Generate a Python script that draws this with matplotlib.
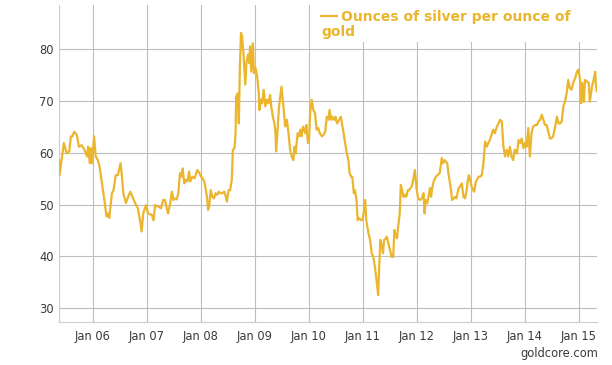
import matplotlib
matplotlib.use("Agg")
import matplotlib.pyplot as plt
from matplotlib.lines import Line2D
from matplotlib.patches import Rectangle

# Decimal-year dates and silver/gold ratio
years = [
    2005.37, 2005.38, 2005.46, 2005.51, 2005.56, 2005.59, 2005.62, 2005.65, 2005.70, 2005.74,
    2005.79, 2005.84, 2005.89, 2005.91, 2005.94, 2005.96, 2005.98, 2006.02, 2006.05, 2006.09,
    2006.12, 2006.16, 2006.21, 2006.25, 2006.28, 2006.30, 2006.35, 2006.38, 2006.42, 2006.46,
    2006.51, 2006.53, 2006.56, 2006.61, 2006.64, 2006.69, 2006.73, 2006.78, 2006.83, 2006.87,
    2006.90, 2006.93, 2006.98, 2007.02, 2007.09, 2007.12, 2007.15, 2007.21, 2007.26, 2007.30,
    2007.33,
    2007.39, 2007.43, 2007.46, 2007.49, 2007.52, 2007.55, 2007.58, 2007.61, 2007.64, 2007.66,
    2007.69, 2007.72, 2007.75, 2007.78, 2007.80, 2007.84, 2007.88, 2007.90, 2007.93, 2007.97,
    2008.00, 2008.03, 2008.06, 2008.09, 2008.11, 2008.13, 2008.15, 2008.18, 2008.21, 2008.24,
    2008.27, 2008.30, 2008.33, 2008.36, 2008.39, 2008.43, 2008.46, 2008.48, 2008.51, 2008.54,
    2008.57, 2008.59, 2008.62, 2008.64, 2008.65, 2008.68, 2008.70, 2008.72, 2008.74, 2008.76,
    2008.79, 2008.82, 2008.84, 2008.87, 2008.89, 2008.91, 2008.93, 2008.96, 2008.98, 2009.01,
    2009.04, 2009.07, 2009.08, 2009.11, 2009.13, 2009.16, 2009.19, 2009.22, 2009.25, 2009.28,
    2009.30, 2009.33, 2009.36, 2009.38, 2009.39, 2009.41, 2009.44, 2009.46,
    2009.49, 2009.52, 2009.56, 2009.59, 2009.62, 2009.65, 2009.68, 2009.71, 2009.73, 2009.75,
    2009.79, 2009.81, 2009.84, 2009.86, 2009.89, 2009.93, 2009.95, 2009.98, 2010.00, 2010.02,
    2010.05, 2010.08, 2010.11, 2010.14, 2010.17, 2010.20, 2010.24, 2010.27, 2010.30, 2010.33,
    2010.36, 2010.38, 2010.41, 2010.43, 2010.47, 2010.49, 2010.52, 2010.56, 2010.59, 2010.62,
    2010.65, 2010.68, 2010.70, 2010.73, 2010.75, 2010.78, 2010.80, 2010.83, 2010.85, 2010.88,
    2010.90, 2010.93, 2010.96, 2010.99, 2011.01, 2011.04, 2011.06, 2011.10, 2011.13, 2011.16,
    2011.19, 2011.22, 2011.25, 2011.28, 2011.30, 2011.32, 2011.35, 2011.37, 2011.39, 2011.43,
    2011.44, 2011.47, 2011.50, 2011.53, 2011.56, 2011.58, 2011.61, 2011.63, 2011.65, 2011.68,
    2011.70, 2011.73, 2011.75, 2011.78, 2011.80, 2011.83, 2011.85, 2011.88, 2011.90, 2011.93,
    2011.96, 2011.99, 2012.02, 2012.06, 2012.09, 2012.12, 2012.14, 2012.16, 2012.19, 2012.21,
    2012.24, 2012.26, 2012.28, 2012.31, 2012.35, 2012.38, 2012.42, 2012.46, 2012.48, 2012.51,
    2012.53, 2012.56, 2012.58, 2012.62, 2012.65, 2012.68, 2012.70, 2012.73, 2012.77, 2012.80,
    2012.83, 2012.86, 2012.89, 2012.91, 2012.94, 2012.96, 2012.99, 2013.01, 2013.04, 2013.06,
    2013.09, 2013.11, 2013.14, 2013.17, 2013.20, 2013.23, 2013.26, 2013.29, 2013.32, 2013.35,
    2013.38, 2013.41, 2013.44, 2013.48, 2013.51, 2013.54,
    2013.57, 2013.60, 2013.63, 2013.66, 2013.69, 2013.72, 2013.75, 2013.78, 2013.81, 2013.85,
    2013.88, 2013.91, 2013.94, 2013.97, 2014.00, 2014.03, 2014.06, 2014.09, 2014.12, 2014.15,
    2014.19, 2014.22, 2014.25, 2014.28, 2014.31, 2014.34, 2014.37, 2014.40, 2014.43, 2014.46,
    2014.49, 2014.52, 2014.56, 2014.59, 2014.62, 2014.65, 2014.68, 2014.71, 2014.74, 2014.77,
    2014.80, 2014.83, 2014.86, 2014.89, 2014.93, 2014.96, 2014.99, 2015.02, 2015.04, 2015.06,
    2015.09, 2015.11, 2015.15, 2015.18, 2015.20, 2015.24, 2015.27, 2015.30, 2015.31, 2015.33,
]
ratio = [
    58.6, 55.7, 61.9, 59.9, 60.3, 63.2, 63.2, 64.1, 63.5, 61.2,
    61.5, 60.6, 59.3, 61.2, 58.0, 60.9, 58.0, 63.2, 59.3, 58.6,
    57.4, 54.5, 50.9, 47.7, 48.3, 47.4, 52.2, 52.8, 55.7, 55.7,
    58.0, 56.1, 52.2, 50.3, 51.2, 52.5, 51.5, 50.3, 49.3, 47.0,
    44.8, 48.3, 49.9, 48.3, 48.0, 47.0, 49.9, 49.6, 49.3, 50.9,
    50.9,
    48.3, 50.3, 52.5, 50.9, 51.2, 51.0, 52.2, 56.1, 55.4, 57.0,
    54.1, 54.8, 54.5, 56.4, 54.5, 55.4, 55.1, 55.7, 56.7, 56.1,
    55.4, 55.1, 54.5, 52.8, 51.5, 49.0, 49.6, 52.8, 51.5, 51.2,
    52.2, 51.9, 52.5, 52.2, 52.2, 52.5, 51.5, 50.6, 52.8, 52.8,
    54.8, 60.6, 60.9, 63.8, 70.9, 71.5, 65.7, 76.7, 83.2, 82.5,
    78.6, 73.2, 77.4, 79.0, 77.4, 80.6, 75.7, 81.2, 75.4, 76.4,
    74.8, 71.5, 68.3, 70.3, 69.6, 72.2, 69.0, 70.3, 69.6, 71.2,
    69.0, 67.0, 65.7, 63.8, 60.3, 63.2, 68.3, 70.3,
    72.8, 69.6, 65.1, 66.4, 63.8, 60.6, 59.3, 58.6, 61.2, 59.9,
    63.8, 63.2, 64.5, 63.2, 65.1, 63.8, 65.4, 61.9, 62.5, 67.7,
    70.3, 68.3, 67.7, 64.5, 64.8, 63.8, 63.2, 63.5, 64.1, 67.0,
    66.4, 68.3, 66.4, 67.0, 66.4, 67.0, 65.7, 66.4, 67.0, 65.1,
    63.2, 61.2, 59.9, 58.6, 56.1, 55.4, 55.4, 52.2, 52.8, 50.9,
    47.0, 47.4, 47.0, 47.0, 48.3, 50.9, 47.0, 44.5, 43.2, 40.6,
    39.9, 38.0, 35.4, 32.5, 38.0, 43.2, 41.9, 40.6, 43.2, 43.5,
    43.8, 42.5, 41.2, 39.9, 39.9, 45.1, 43.8, 43.5, 45.7, 48.3,
    53.8, 52.5, 51.5, 51.9, 51.5, 52.8, 52.8, 53.2, 53.5, 54.8,
    56.7, 53.2, 51.2, 50.9, 51.2, 52.2, 48.3, 50.9, 50.3, 51.5,
    53.2, 51.5, 53.2, 54.5, 55.4, 55.7, 56.1, 59.0, 58.0, 58.6,
    58.3, 58.0, 56.1, 53.5, 50.9, 51.2, 51.5, 51.2, 53.2, 53.5,
    54.1, 51.5, 51.2, 52.2, 54.5, 55.7, 54.5, 53.5, 52.8, 52.5,
    54.5, 54.8, 55.4, 55.4, 55.7, 58.0, 62.2, 61.2, 61.9, 62.5,
    63.5, 64.5, 63.8, 65.1, 65.7, 66.4,
    66.1, 61.2, 59.3, 60.6, 59.3, 61.2, 59.3, 58.6, 60.6, 59.9,
    62.5, 61.9, 62.8, 60.9, 61.9, 61.2, 64.8, 59.3, 63.8, 65.1,
    65.4, 65.4, 66.1, 66.4, 67.4, 66.4, 65.4, 65.4, 64.1, 62.8,
    62.8, 63.2, 65.1, 67.0, 65.7, 65.7, 66.1, 69.0, 69.9, 71.5,
    74.1, 72.5, 72.2, 73.5, 74.5, 75.7, 76.1, 74.1, 69.6, 73.5,
    69.9, 74.1, 73.8, 73.5, 69.9, 72.8, 74.1, 75.7, 73.5, 71.9,
]
tick_years = [2006, 2007, 2008, 2009, 2010, 2011, 2012, 2013, 2014, 2015]
tick_labels = ["Jan 06", "Jan 07", "Jan 08", "Jan 09", "Jan 10",
               "Jan 11", "Jan 12", "Jan 13", "Jan 14", "Jan 15"]
y_ticks = [30, 40, 50, 60, 70, 80]
series_name = "Ounces of silver per ounce of gold"

GOLD = "#EBB62E"
GRID = "#bdbdbd"
TXT = "#3a3a3a"

plt.rcParams["font.family"] = ["DejaVu Sans"]
W, H = 612, 365
fig = plt.figure(figsize=(W / 100, H / 100), dpi=100)
ax = fig.add_axes([59 / W, 1 - 322 / H, (597 - 59) / W, (322 - 5) / H])

ax.plot(years, ratio, color=GOLD, lw=1.6, solid_joinstyle="round", zorder=3)

ax.set_xlim(2005.37, 2015.333)
ax.set_ylim(27.3, 88.6)
ax.set_xticks(tick_years)
ax.set_xticklabels(tick_labels)
ax.set_yticks(y_ticks)
ax.grid(True, color=GRID, lw=0.8, zorder=0)
ax.set_axisbelow(True)
ax.tick_params(axis="both", length=0, labelsize=8.3, labelcolor=TXT)
ax.tick_params(axis="x", pad=5.5)
ax.tick_params(axis="y", pad=4)
for s in ["top", "right"]:
    ax.spines[s].set_visible(False)
for s in ["left", "bottom"]:
    ax.spines[s].set_color("#cccccc")
    ax.spines[s].set_linewidth(0.8)

# legend box (white background covering gridlines)
fig.patches.append(Rectangle((314 / W, 1 - 41.5 / H), (597 - 314) / W, 37 / H,
                             transform=fig.transFigure, facecolor="white",
                             edgecolor="none", zorder=5))
fig.lines.append(Line2D([321 / W, 337 / W], [1 - 15.5 / H, 1 - 15.5 / H],
                        transform=fig.transFigure, color=GOLD, lw=1.6, zorder=6))
words = series_name.split(" ")
fig.text(341 / W, 1 - 21 / H, " ".join(words[:-1]), color=GOLD, fontsize=10,
         fontweight="bold", ha="left", va="baseline", zorder=6)
fig.text(321 / W, 1 - 36 / H, words[-1], color=GOLD, fontsize=10,
         fontweight="bold", ha="left", va="baseline", zorder=6)

fig.text(598 / W, 1 - 353 / H, "goldcore.com", color=TXT, fontsize=8.3,
         ha="right", va="center")

fig.savefig("out.png", dpi=100, facecolor="white")
